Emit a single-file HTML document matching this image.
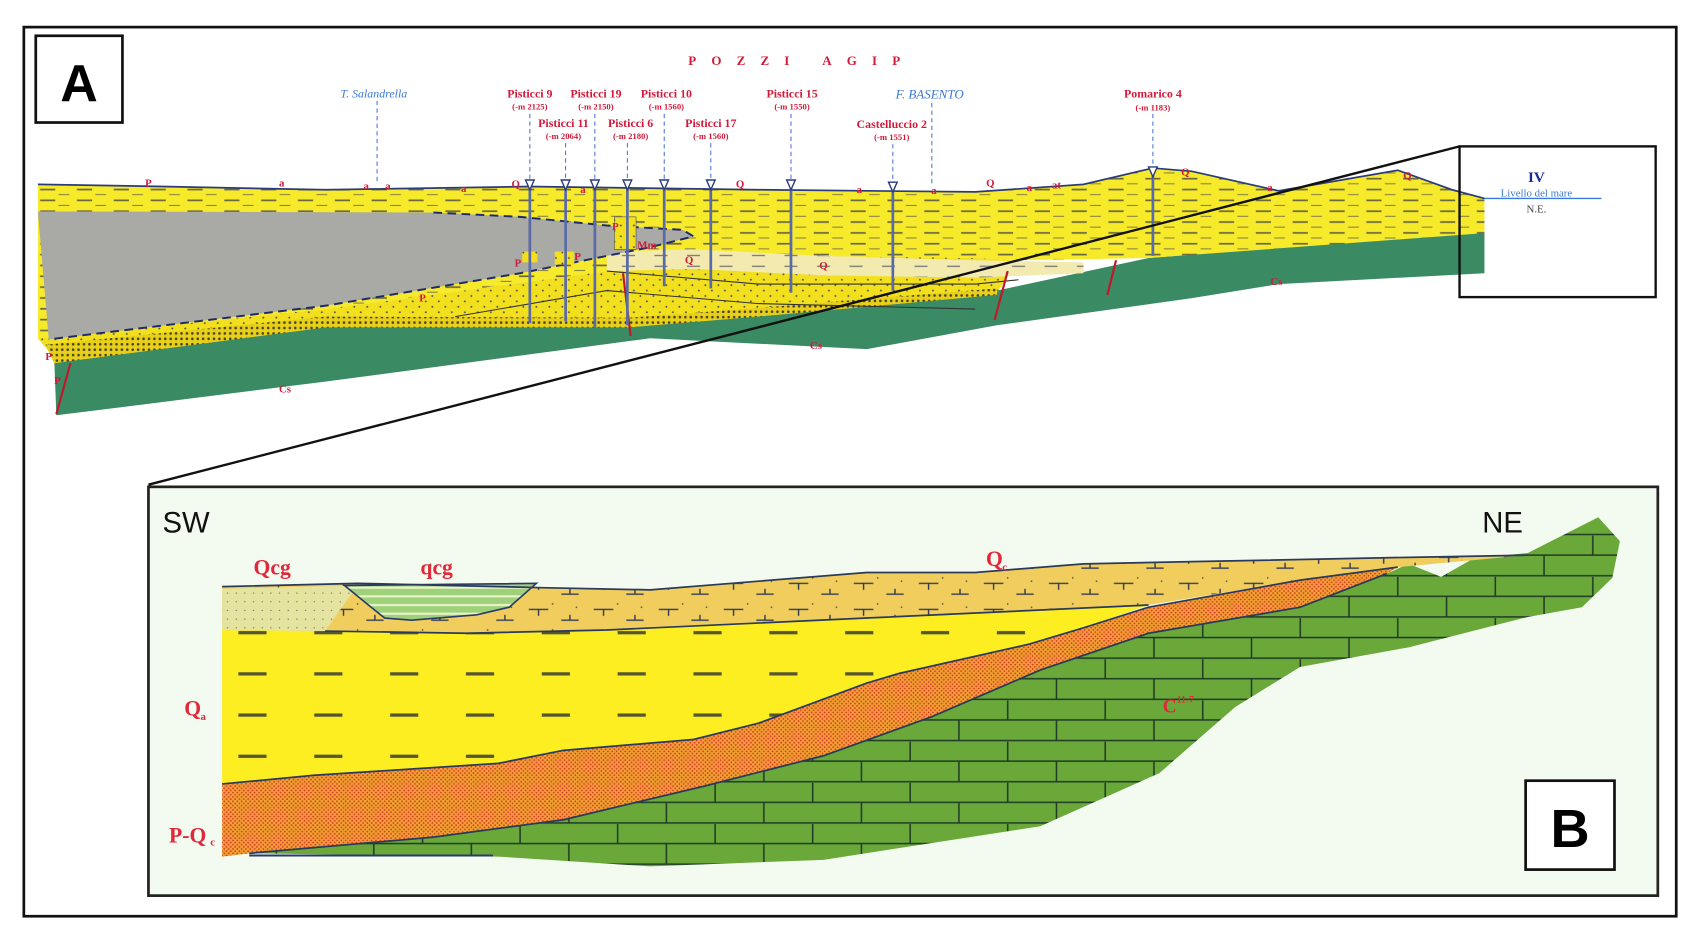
<!DOCTYPE html>
<html><head><meta charset="utf-8"><style>
html,body{margin:0;padding:0;background:#fff}
svg{display:block}
text{font-family:"Liberation Serif",serif}
</style></head><body>
<svg width="1699" height="939" viewBox="0 0 1568 866" preserveAspectRatio="none" xmlns="http://www.w3.org/2000/svg">
<defs>
<pattern id="dash" width="34" height="10" patternUnits="userSpaceOnUse"><rect width="34" height="10" fill="#f6ea2a"/><rect x="3" y="4" width="14" height="1.6" fill="#6b6a40"/><rect x="20" y="9" width="10" height="1.2" fill="#8a8440"/></pattern>
<pattern id="dots" width="12" height="10" patternUnits="userSpaceOnUse"><rect width="12" height="10" fill="#f2e01e"/><circle cx="3" cy="3" r="0.9" fill="#555"/><circle cx="9" cy="8" r="0.9" fill="#555"/></pattern>
<pattern id="cong" width="5" height="5" patternUnits="userSpaceOnUse"><rect width="5" height="5" fill="#e8cf1a"/><circle cx="2.5" cy="2.5" r="1.2" fill="#4a4520"/></pattern>
<pattern id="pale" width="30" height="10" patternUnits="userSpaceOnUse"><rect width="30" height="10" fill="#f3eab0"/><rect x="4" y="5" width="12" height="1.2" fill="#777"/></pattern>
<pattern id="orange" width="4" height="4" patternUnits="userSpaceOnUse"><rect width="4" height="4" fill="#f0a032"/><circle cx="1" cy="1" r="0.8" fill="#d2322a"/><circle cx="3" cy="3" r="0.8" fill="#d2322a"/></pattern>
<pattern id="bdash" width="70" height="38" patternUnits="userSpaceOnUse"><rect width="70" height="38" fill="#fcee21"/><rect x="10" y="12" width="26" height="3" fill="#555530"/></pattern>
<pattern id="tan" width="60" height="24" patternUnits="userSpaceOnUse"><rect width="60" height="24" fill="#f0cd5c"/><path d="M8 10h18M17 10v6M38 20h16M46 20v-5" stroke="#2f3a55" stroke-width="1.3" fill="none"/><circle cx="30" cy="5" r="0.8" fill="#555"/><circle cx="52" cy="8" r="0.8" fill="#555"/></pattern>
<pattern id="brick" width="90" height="38" patternUnits="userSpaceOnUse"><rect width="90" height="38" fill="#6aa83a"/><path d="M0 18h90M0 37h90M30 0v18M75 18v19" stroke="#1f3a25" stroke-width="1.4" fill="none"/></pattern>
<pattern id="qcg" width="8" height="8" patternUnits="userSpaceOnUse"><rect width="8" height="8" fill="#e5e3a0"/><circle cx="2" cy="3" r="0.6" fill="#666"/></pattern>
<pattern id="stripe" width="10" height="8" patternUnits="userSpaceOnUse"><rect width="10" height="8" fill="#9fd07a"/><rect y="5" width="10" height="2" fill="#e8f4c8"/></pattern>
</defs>

<rect x="22" y="25" width="1525" height="820" fill="#fff" stroke="#111" stroke-width="2.5"/>

<!-- ============ Panel A ============ -->
<path d="M50 330 L300 298 L580 298 L700 288 L920 268 L1060 238 L1370 213 L1370 252 L1180 262 L1100 275 L920 300 L800 322 L600 312 L300 352 L52 383 Z" fill="#3a8a63"/>
<path d="M35 312 L300 285 L560 250 L700 235 L900 238 L940 240 L920 270 L700 290 L580 298 L300 298 L50 330 Z" fill="url(#dots)"/>
<path d="M42 318 L300 292 L580 293 L700 284 L920 266 L920 272 L700 292 L580 302 L300 302 L50 335 Z" fill="url(#cong)"/>
<path d="M35 170 L150 172 L300 175 L489 172 L700 175 L900 177 L1000 170 L1064 155 L1100 158 L1180 176 L1290 157 L1340 175 L1370 183 L1370 215 L1060 238 L940 240 L900 238 L700 235 L560 250 L300 285 L35 312 Z" fill="url(#dash)"/>
<path d="M560 232 L640 230 L760 236 L900 240 L1000 242 L1000 252 L900 256 L760 254 L640 248 L560 250 Z" fill="url(#pale)"/>
<path d="M35 195 L400 196 L480 200 L560 208 L630 212 L640 218 L600 228 L560 236 L480 252 L300 282 L45 313 Z" fill="#a9a9a6"/>
<path d="M400 196 L480 200 L560 208 L630 212 L640 218 L600 228 L560 236 L480 252 L300 282 L45 313" fill="none" stroke="#1e2a6a" stroke-width="1.8" stroke-dasharray="8,5"/>
<path d="M35 170 L150 172 L300 175 L489 172 L700 175 L900 177 L1000 170 L1064 155 L1100 158 L1180 176 L1290 157 L1340 175 L1370 183" fill="none" stroke="#2a3a7a" stroke-width="1.6"/>
<path d="M560 250 L700 262 L900 262 L940 258 M420 292 L560 268 L700 280 L900 285" fill="none" stroke="#333" stroke-width="1"/>
<rect x="567" y="200" width="20" height="30" fill="url(#dots)" stroke="#555" stroke-width="0.6"/>
<rect x="512" y="232" width="18" height="12" fill="url(#dots)"/>
<rect x="482" y="232" width="14" height="10" fill="url(#dots)"/>
<path d="M65 335 L52 382 M575 252 L582 310 M930 250 L918 295 M1030 240 L1022 272" stroke="#c0182a" stroke-width="2" fill="none"/>
<g stroke="#5a6aa8" stroke-width="2.5">
<line x1="489" y1="170" x2="489" y2="298"/><line x1="522" y1="170" x2="522" y2="296"/><line x1="549" y1="170" x2="549" y2="302"/><line x1="579" y1="170" x2="579" y2="300"/><line x1="613" y1="170" x2="613" y2="264"/><line x1="656" y1="170" x2="656" y2="266"/><line x1="730" y1="170" x2="730" y2="270"/><line x1="824" y1="172" x2="824" y2="268"/><line x1="1064" y1="158" x2="1064" y2="236"/>
</g>
<g fill="#fff" stroke="#2a3a7a" stroke-width="1.3">
<path d="M485 166h8l-4 9z"/><path d="M518 166h8l-4 9z"/><path d="M545 166h8l-4 9z"/><path d="M575 166h8l-4 9z"/><path d="M609 166h8l-4 9z"/><path d="M652 166h8l-4 9z"/><path d="M726 166h8l-4 9z"/><path d="M820 168h8l-4 9z"/><path d="M1060 154h8l-4 9z"/>
</g>
<g stroke="#3a6ad0" stroke-width="0.9" stroke-dasharray="4,3">
<line x1="348" y1="93" x2="348" y2="170"/><line x1="860" y1="95" x2="860" y2="172"/>
<line x1="489" y1="105" x2="489" y2="166"/><line x1="522" y1="132" x2="522" y2="166"/><line x1="549" y1="105" x2="549" y2="166"/><line x1="579" y1="132" x2="579" y2="166"/><line x1="613" y1="105" x2="613" y2="166"/><line x1="656" y1="132" x2="656" y2="166"/><line x1="730" y1="105" x2="730" y2="166"/><line x1="824" y1="133" x2="824" y2="168"/><line x1="1064" y1="105" x2="1064" y2="154"/>
</g>
<g fill="#d11a3a" font-size="11" text-anchor="middle" font-weight="bold">
<text x="740" y="60" font-size="12" letter-spacing="14">POZZI AGIP</text>
<text x="489" y="90">Pisticci 9</text><text x="489" y="101" font-size="8">(-m 2125)</text>
<text x="550" y="90">Pisticci 19</text><text x="550" y="101" font-size="8">(-m 2150)</text>
<text x="615" y="90">Pisticci 10</text><text x="615" y="101" font-size="8">(-m 1560)</text>
<text x="731" y="90">Pisticci 15</text><text x="731" y="101" font-size="8">(-m 1550)</text>
<text x="520" y="117">Pisticci 11</text><text x="520" y="128" font-size="8">(-m 2064)</text>
<text x="582" y="117">Pisticci 6</text><text x="582" y="128" font-size="8">(-m 2180)</text>
<text x="656" y="117">Pisticci 17</text><text x="656" y="128" font-size="8">(-m 1560)</text>
<text x="823" y="118">Castelluccio 2</text><text x="823" y="129" font-size="8">(-m 1551)</text>
<text x="1064" y="90">Pomarico 4</text><text x="1064" y="102" font-size="8">(-m 1183)</text>
<g font-size="10"><text x="137" y="172">P</text><text x="260" y="172">a</text><text x="338" y="175">a</text><text x="358" y="175">a</text><text x="428" y="177">a</text><text x="476" y="173">Q</text><text x="538" y="178">a</text><text x="683" y="173">Q</text><text x="793" y="178">a</text><text x="862" y="179">a</text><text x="914" y="172">Q</text><text x="950" y="176">a</text><text x="975" y="174">at</text><text x="1094" y="162">Q</text><text x="1172" y="176">a</text><text x="1299" y="165">Q</text>
<text x="636" y="243">Q</text><text x="760" y="248">Q</text><text x="597" y="229">Mm</text><text x="568" y="212">P</text><text x="478" y="246">P</text><text x="533" y="240">P</text><text x="390" y="278">P</text><text x="45" y="332">P</text><text x="53" y="354">P</text>
<text x="263" y="362">Cs</text><text x="753" y="322">Cs</text><text x="1178" y="263">Cs</text></g>
</g>
<text x="345" y="90" fill="#3a7ad8" font-size="11" font-style="italic" text-anchor="middle">T. Salandrella</text>
<text x="858" y="91" fill="#3a7ad8" font-size="12" font-style="italic" text-anchor="middle">F. BASENTO</text>
<text x="1418" y="168" fill="#1a2a90" font-size="14" font-weight="bold" text-anchor="middle">IV</text>
<text x="1418" y="181" fill="#3a7ad8" font-size="10" text-anchor="middle">Livello del mare</text>
<line x1="1370" y1="183" x2="1478" y2="183" stroke="#3a7ad8" stroke-width="1.2"/>
<text x="1418" y="196" fill="#444" font-size="10" text-anchor="middle">N.E.</text>

<rect x="33" y="33" width="80" height="80" fill="#fff" stroke="#111" stroke-width="2.5"/>
<text x="73" y="93" font-size="48" font-weight="bold" text-anchor="middle" style="font-family:'Liberation Sans',sans-serif">A</text>

<rect x="1347" y="135" width="181" height="139" fill="none" stroke="#111" stroke-width="2.2"/>
<line x1="1347" y1="135" x2="137" y2="447" stroke="#111" stroke-width="2.2"/>

<!-- ============ Panel B ============ -->
<rect x="137" y="449" width="1393" height="377" fill="#f3faf0" stroke="#222" stroke-width="2.5"/>
<!-- green brick -->
<path d="M230 787 L400 772 L520 756 L650 725 L760 697 L860 661 L960 618 L1060 584 L1200 560 L1280 529 L1300 520 L1330 532 L1360 515 L1410 510 L1475 477 L1495 499 L1488 533 L1460 560 L1410 569 L1300 597 L1200 615 L1140 652 L1070 713 L960 762 L760 793 L600 799 L460 790 Z" fill="url(#brick)"/>
<!-- orange -->
<path d="M205 723 L290 715 L460 704 L520 692 L640 682 L700 667 L800 630 L830 621 L950 594 L1000 579 L1060 560 L1200 535 L1290 523 L1280 529 L1200 560 L1060 584 L960 618 L860 661 L760 697 L650 725 L520 756 L400 772 L230 787 L205 790 Z" fill="url(#orange)"/>
<!-- yellow Qa -->
<path d="M205 581 L300 582 L430 584 L560 581 L800 570 L1060 558 L1000 579 L950 594 L830 621 L800 630 L700 667 L640 682 L520 692 L460 704 L290 715 L205 723 Z" fill="url(#bdash)"/>
<!-- tan Qc -->
<path d="M205 541 L330 538 L500 542 L600 544 L700 536 L800 528 L900 528 L1000 520 L1100 518 L1300 514 L1410 512 L1290 523 L1200 535 L1060 558 L800 570 L560 581 L430 584 L300 582 L205 581 Z" fill="url(#tan)"/>
<path d="M205 543 L330 540 L300 582 L205 581 Z" fill="url(#qcg)"/>
<path d="M318 540 L495 538 L470 560 L440 567 L380 572 L355 570 L340 558 Z" fill="url(#stripe)" stroke="#2a3a6a" stroke-width="1.5"/>
<path d="M205 541 L330 538 L500 542 L600 544 L700 536 L800 528 L900 528 L1000 520 L1100 518 L1300 514 L1410 512 M300 582 L430 584 L560 581 L800 570 L1060 558 M205 723 L290 715 L460 704 L520 692 L640 682 L700 667 L800 630 L830 621 L950 594 L1000 579 L1060 560 L1200 535 L1290 523 M230 787 L400 772 L520 756 L650 725 L760 697 L860 661 L960 618 L1060 584 L1200 560 L1280 529" fill="none" stroke="#2a3a5a" stroke-width="1.6"/>
<line x1="230" y1="789" x2="455" y2="789" stroke="#2a3a6a" stroke-width="1.8"/>
<g style="font-family:'Liberation Sans',sans-serif">
<text x="150" y="491" font-size="27" fill="#111" style="font-family:'Liberation Sans',sans-serif">SW</text>
<text x="1368" y="491" font-size="27" fill="#111" style="font-family:'Liberation Sans',sans-serif">NE</text>
<g fill="#e0283a" font-size="20" font-weight="bold" style="font-family:'Liberation Sans',sans-serif">
<text x="234" y="530">Qcg</text><text x="388" y="530">qcg</text><text x="910" y="522">Q</text><text x="925" y="526" font-size="10">c</text>
<text x="170" y="660">Q</text><text x="185" y="664" font-size="10">a</text>
<text x="156" y="777">P-Q</text><text x="194" y="780" font-size="10">c</text>
<text x="1073" y="657" font-size="18">C</text><text x="1086" y="648" font-size="9">11-7</text>
</g>
</g>
<rect x="1408" y="720" width="82" height="82" fill="#fff" stroke="#111" stroke-width="2.5"/>
<text x="1449" y="781" font-size="50" font-weight="bold" text-anchor="middle" style="font-family:'Liberation Sans',sans-serif">B</text>
</svg>
</body></html>
